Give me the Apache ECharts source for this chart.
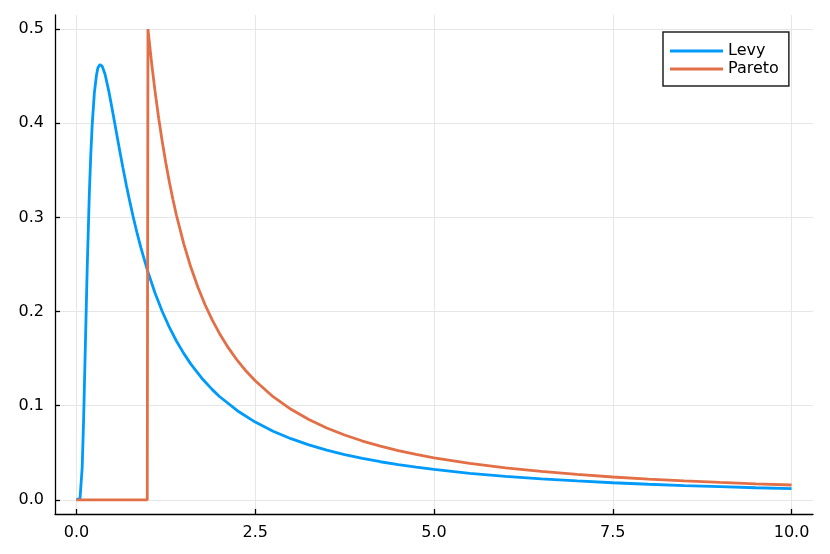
<!DOCTYPE html>
<html>
<head>
<meta charset="utf-8">
<title>Levy vs Pareto</title>
<script src="https://cdn.jsdelivr.net/npm/echarts@6/dist/echarts.min.js"></script>
<style>
  html, body { margin: 0; padding: 0; background: #fff; }
  #chart { width: 830px; height: 554px; }
</style>
</head>
<body>
<div id="chart"></div>
<script>
  // values
  const levyX = [0, 0.05, 0.08, 0.1, 0.12, 0.15, 0.18, 0.2, 0.22, 0.25, 0.28, 0.3, 0.33, 0.36, 0.4, 0.45, 0.5, 0.55, 0.6, 0.65, 0.7, 0.75, 0.8, 0.85, 0.9,
    1.0, 1.1, 1.2, 1.3, 1.4, 1.5, 1.6, 1.75, 1.9, 2, 2.25, 2.5, 2.75, 3, 3.25, 3.5, 3.75, 4, 4.25, 4.5, 4.75, 5,
    5.5, 6, 6.5, 7, 7.5, 8, 8.5, 9, 9.5, 10];
  const levyY = [0, 0.0016, 0.034, 0.085, 0.149, 0.245, 0.325, 0.366, 0.398, 0.432, 0.451, 0.459, 0.4625, 0.4605, 0.452, 0.435, 0.415, 0.394, 0.373, 0.3527, 0.3334, 0.3154, 0.2984, 0.2827, 0.2681,
    0.2420, 0.2195, 0.2001, 0.1832, 0.1685, 0.1556, 0.1442, 0.1295, 0.1171, 0.1098, 0.0947, 0.0826, 0.0729, 0.0650, 0.0584, 0.0528, 0.0481, 0.0440, 0.0405, 0.0374, 0.0347, 0.0323,
    0.0282, 0.0250, 0.0223, 0.0201, 0.0182, 0.0166, 0.0152, 0.0140, 0.0129, 0.0120];

  const paretoX = [0, 0.99, 1.0, 1.05, 1.1, 1.15, 1.2, 1.25, 1.3, 1.35, 1.4, 1.5, 1.6, 1.7, 1.8, 1.9, 2, 2.125, 2.25, 2.375, 2.5, 2.75, 3, 3.25, 3.5, 3.75, 4, 4.25, 4.5, 4.75, 5,
    5.5, 6, 6.5, 7, 7.5, 8, 8.5, 9, 9.5, 10];
  const paretoY = [0, 0, 0.5, 0.4647, 0.4334, 0.4054, 0.3804, 0.3578, 0.3373, 0.3188, 0.3018, 0.2722, 0.2470, 0.2256, 0.2070, 0.1909, 0.1768, 0.1614, 0.1481, 0.1366, 0.1265, 0.1096, 0.0962, 0.0853, 0.0764, 0.0689, 0.0625, 0.0571, 0.0524, 0.0483, 0.0447,
    0.0388, 0.0340, 0.0302, 0.0270, 0.0243, 0.0221, 0.0202, 0.0185, 0.0171, 0.0158];

  const xTicks = [0, 2.5, 5, 7.5, 10];
  const yTicks = [0, 0.1, 0.2, 0.3, 0.4, 0.5];

  const pairs = (xs, ys) => xs.map((x, i) => [x, ys[i]]);

  const font = '"DejaVu Sans", sans-serif';
  const axisLineStyle = { color: '#000', width: 1.3 };
  const gridStyle = { color: '#e6e6e6', width: 1 };

  const option = {
    animation: false,
    backgroundColor: '#fff',
    textStyle: { fontFamily: font },
    grid: { left: 55, right: 17, top: 15, bottom: 40 },
    legend: {
      orient: 'vertical',
      left: 663,
      top: 32,
      padding: [11, 10, 9, 7],
      itemGap: 2,
      itemWidth: 53,
      itemHeight: 3,
      icon: 'rect',
      borderColor: '#222',
      borderWidth: 1.5,
      borderRadius: 0,
      textStyle: { fontFamily: font, fontSize: 16, color: '#000', lineHeight: 16, padding: [0, 0, 0, 0] },
      data: ['Levy', 'Pareto']
    },
    xAxis: {
      type: 'value',
      min: -0.3,
      max: 10.3,
      axisLine: { onZero: false, lineStyle: axisLineStyle },
      axisTick: { inside: true, length: 5, lineStyle: axisLineStyle, customValues: xTicks },
      axisLabel: {
        customValues: xTicks,
        margin: 11,
        fontSize: 16,
        color: '#000',
        fontFamily: font,
        formatter: v => v.toFixed(1)
      },
      splitLine: { show: true, lineStyle: gridStyle }
    },
    yAxis: {
      type: 'value',
      min: -0.015,
      max: 0.515,
      axisLine: { show: true, onZero: false, lineStyle: axisLineStyle },
      axisTick: { show: true, inside: true, length: 5, lineStyle: axisLineStyle, customValues: yTicks },
      axisLabel: {
        customValues: yTicks,
        margin: 11,
        fontSize: 16,
        color: '#000',
        fontFamily: font,
        formatter: v => v.toFixed(1)
      },
      splitLine: { show: true, lineStyle: gridStyle }
    },
    series: [
      {
        name: 'Levy',
        type: 'line',
        showSymbol: false,
        color: '#009AFA',
        lineStyle: { width: 2.8, color: '#009AFA' },
        data: pairs(levyX, levyY)
      },
      {
        name: 'Pareto',
        type: 'line',
        showSymbol: false,
        color: '#E26F46',
        lineStyle: { width: 2.8, color: '#E26F46' },
        data: pairs(paretoX, paretoY)
      }
    ]
  };

  const chart = echarts.init(document.getElementById('chart'));
  chart.setOption(option);
</script>
</body>
</html>
